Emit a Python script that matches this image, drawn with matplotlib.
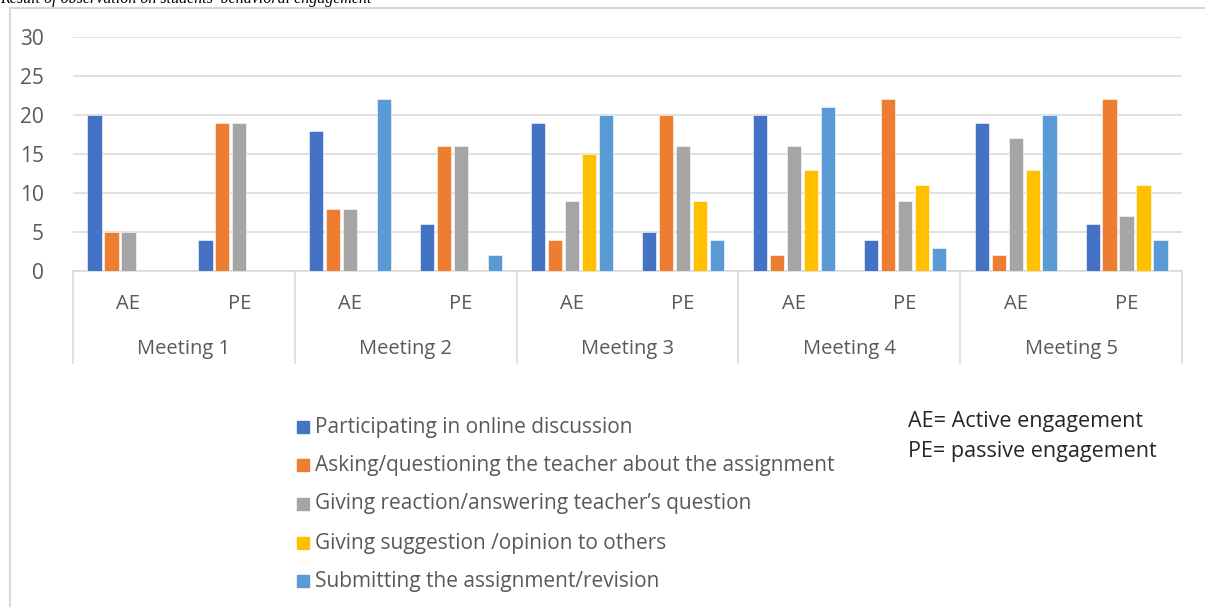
import matplotlib.pyplot as plt
import matplotlib.transforms as mtransforms
from matplotlib.patches import Rectangle
from matplotlib.lines import Line2D

meetings = ["Meeting 1", "Meeting 2", "Meeting 3", "Meeting 4", "Meeting 5"]
engagement = ["AE", "PE"]
series_names = [
    "Participating in online discussion",
    "Asking/questioning the teacher about the assignment",
    "Giving reaction/answering teacher\u2019s question",
    "Giving suggestion /opinion to others",
    "Submitting the assignment/revision",
]
colors = ["#4472C4", "#ED7D31", "#A5A5A5", "#FFC000", "#5B9BD5"]

# values per slot: M1 AE, M1 PE, M2 AE, M2 PE, ... M5 PE
participating = [20, 4, 18, 6, 19, 5, 20, 4, 19, 6]
asking = [5, 19, 8, 16, 4, 20, 2, 22, 2, 22]
reaction = [5, 19, 8, 16, 9, 16, 16, 9, 17, 7]
suggestion = [0, 0, 0, 0, 15, 9, 13, 11, 13, 11]
submitting = [0, 0, 22, 2, 20, 4, 21, 3, 20, 4]
series = [participating, asking, reaction, suggestion, submitting]

W, H = 1205, 607
plt.rcParams['font.family'] = ['Open Sans', 'DejaVu Sans']
fig = plt.figure(figsize=(W / 100, H / 100), dpi=100)

def fx(px):
    return px / W

def fy(py):
    return 1 - py / H

grey_txt = "#595959"
grid_c = "#D9D9D9"

# chart border (left + top, the rest falls outside the picture)
fig.add_artist(Line2D([fx(10), fx(10)], [fy(8), 0], color=grid_c, lw=1.5))
fig.add_artist(Line2D([fx(10), 1], [fy(8), fy(8)], color=grid_c, lw=1.5))

# caption above the chart, cut off at the top as in the source
fig.text(fx(0), fy(3), "Result of observation on students\u2019 behavioral engagement",
         family='Liberation Serif', style='italic', fontsize=11.5, va='baseline', ha='left')

ax = fig.add_axes([fx(73), fy(271), fx(1182) - fx(73), fy(37) - fy(271)])
n = len(participating)
xs = list(range(n))
step = 0.153
for j, (vals, c) in enumerate(zip(series, colors)):
    ax.bar([x + (j - 2) * step for x in xs], vals, width=0.128, color=c,
           edgecolor='white', linewidth=0.4, zorder=3)

ax.set_xlim(-0.5, n - 0.5)
ax.set_ylim(0, 30)
ax.set_yticks(range(0, 31, 5))
ax.yaxis.grid(True, color=grid_c, lw=1.1, zorder=0)
ax.tick_params(axis='y', length=0, pad=21, labelsize=15, labelcolor=grey_txt)
ax.set_xticks([])
for s in ['top', 'right', 'left']:
    ax.spines[s].set_visible(False)
ax.spines['bottom'].set_color(grid_c)
ax.spines['bottom'].set_linewidth(1.1)

# category axis: sub-labels, group labels and separators
bt = mtransforms.blended_transform_factory(ax.transData, fig.transFigure)
for i in range(n):
    ax.text(i, fy(304), engagement[i % 2], transform=bt,
            ha='center', va='center', fontsize=14.5, color=grey_txt)
for k, m in enumerate(meetings):
    ax.text(2 * k + 0.5, fy(349), m, transform=bt, ha='center', va='center',
            fontsize=14.5, color=grey_txt)
for b in range(0, n + 1, 2):
    ax.add_line(Line2D([b - 0.5, b - 0.5], [fy(271), fy(363)], transform=bt,
                       color=grid_c, lw=1.1, clip_on=False))

# legend drawn by hand
row_y = [427, 465, 504, 543, 581]
for name, c, ry in zip(series_names, colors, row_y):
    fig.add_artist(Rectangle((fx(297), fy(ry + 6)), 12 / W, 12 / H, color=c,
                             transform=fig.transFigure))
    fig.text(fx(315), fy(ry), name, fontsize=15, color=grey_txt, va='center', ha='left')

fig.text(fx(908), fy(422), "AE= Active engagement", fontsize=15.5, color="#262626",
         va='center', ha='left')
fig.text(fx(908), fy(451), "PE= passive engagement", fontsize=15.5, color="#262626",
         va='center', ha='left')

fig.savefig("out.png", dpi=100)
